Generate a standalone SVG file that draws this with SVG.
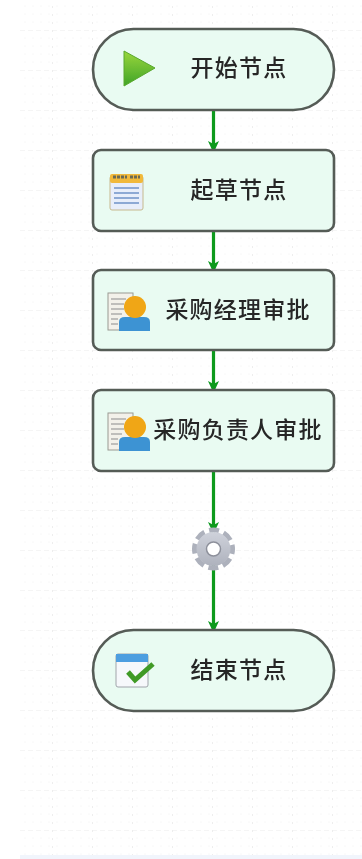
<svg xmlns="http://www.w3.org/2000/svg" width="362" height="859" viewBox="0 0 362 859">
<style>
.node{fill:#e9fbf2;stroke:#555b57;stroke-width:2.6}
.label{font-family:"Noto Sans CJK SC","Noto Sans CJK JP",sans-serif;font-size:23px;font-weight:500;letter-spacing:1.200px;fill:#262626;text-anchor:middle}
.conn{fill:none;stroke:#0b9a1f;stroke-width:3.2;marker-end:url(#arrow)}
.soft{filter:url(#soft)}
</style>
<defs>
<filter id="soft" filterUnits="userSpaceOnUse" x="0" y="0" width="362" height="859"><feGaussianBlur stdDeviation="0.5"/></filter>
<pattern id="grid" x="12" y="30" width="40" height="40" patternUnits="userSpaceOnUse">
<path d="M0 0V40" stroke="#e2e2e2" stroke-width="1.200" stroke-dasharray="2 6" fill="none"/>
<path d="M0 0H40" stroke="#ececec" stroke-width="1" stroke-dasharray="5 3" fill="none"/>
<path d="M4 8H40M4 16H40M4 24H40M4 32H40" stroke="#f8f8f8" stroke-width="1" stroke-dasharray="2 6" fill="none"/>
</pattern>
<marker id="arrow" markerUnits="userSpaceOnUse" markerWidth="14" markerHeight="14" refX="13" refY="7" orient="auto">
<path d="M1 1.500L13 7L1 12.500L4 7Z" fill="#0b9a1f"/>
</marker>
<linearGradient id="play" x1="0" y1="0" x2="0" y2="1"><stop offset="0" stop-color="#9ad63c"/><stop offset="1" stop-color="#3fa428"/></linearGradient>
<linearGradient id="gear" x1="0" y1="0" x2="0" y2="1"><stop offset="0" stop-color="#cfd2db"/><stop offset="1" stop-color="#aeb2bd"/></linearGradient>
<g id="person">
<rect x="108" y="0" width="25" height="37" fill="#f3f1ea" stroke="#9a9a92"/>
<path d="M111 6H126M111 11H124M111 16H124M111 21H122M111 26H118M111 31H118" stroke="#8b8b8b" stroke-width="1.200" fill="none"/>
<path d="M119 38V29Q119 24 125 24H144Q150 24 150 29V38Z" fill="#3c93d3"/>
<circle cx="135" cy="14" r="11" fill="#f0a613"/>
</g>
</defs>
<rect width="362" height="859" fill="#ffffff"/>
<g id="background">
<rect x="20" y="0" width="342" height="855" fill="url(#grid)"/>
<rect x="20" y="855" width="342" height="4" fill="#f1f5fc"/>
</g>
<g id="connectors" class="soft">
<path class="conn" d="M213.500 110V153"/>
<path class="conn" d="M213.500 231V273"/>
<path class="conn" d="M213.500 350V393"/>
<path class="conn" d="M213.500 471V534"/>
<path class="conn" d="M213.500 565V633"/>
</g>
<g id="node-start" class="soft">
<rect class="node" x="93" y="29" width="241" height="81" rx="40.500"/>
<path d="M124 51L155 68L124 86Z" fill="url(#play)" stroke="#58a82c"/>
<text class="label" x="239" y="76">开始节点</text>
</g>
<g id="node-draft" class="soft">
<rect class="node" x="93" y="150" width="241" height="81" rx="8"/>
<rect x="110" y="176" width="33" height="34" rx="2" fill="#e8eefa" stroke="#c7b98e"/>
<rect x="110" y="174" width="33" height="9" rx="2" fill="#f1b93a"/>
<path d="M113 177H127M130 177H140" stroke="#6b6b55" stroke-width="3" stroke-dasharray="3 1" fill="none"/>
<path d="M114 188H139M114 193H139M114 198H139M114 203H139" stroke="#6f92c8" stroke-width="1.500" fill="none"/>
<text class="label" x="239" y="198">起草节点</text>
</g>
<g id="node-manager" class="soft">
<rect class="node" x="93" y="270" width="241" height="80" rx="8"/>
<use href="#person" y="293"/>
<text class="label" x="238" y="318">采购经理审批</text>
</g>
<g id="node-head" class="soft">
<rect class="node" x="93" y="390" width="241" height="81" rx="8"/>
<use href="#person" y="413"/>
<text class="label" x="238" y="438">采购负责人审批</text>
</g>
<g id="node-gear" class="soft">
<circle cx="213.500" cy="549" r="19" fill="none" stroke="#adb1bc" stroke-width="5" stroke-dasharray="10 4.920" stroke-dashoffset="5"/>
<circle cx="213.500" cy="549" r="17" fill="url(#gear)"/>
<circle cx="213.500" cy="549" r="7" fill="#ffffff" stroke="#8d909b" stroke-width="1.500"/>
</g>
<g id="node-end" class="soft">
<rect class="node" x="93" y="630" width="241" height="81" rx="40.500"/>
<rect x="116" y="654" width="32" height="33" rx="2" fill="#f6f8fb" stroke="#a0a4aa"/>
<rect x="116" y="654" width="32" height="8" fill="#4d9ee0"/>
<path d="M128 672L135 680L153 664" fill="none" stroke="#3f9a26" stroke-width="5"/>
<text class="label" x="239" y="678">结束节点</text>
</g>
</svg>
